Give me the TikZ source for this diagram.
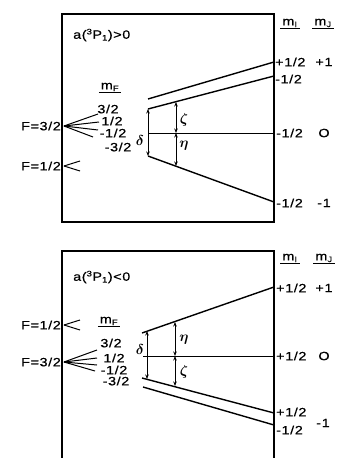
\documentclass[tikz,border=0pt]{standalone}
\usepackage{fontspec}
\setmainfont[FakeStretch=1.2,FakeBold=0.6,LetterSpace=5]{Liberation Sans}
\usetikzlibrary{arrows.meta}
\begin{document}
\begin{tikzpicture}[x=1pt,y=-1pt,
  lbl/.style={inner sep=0pt,font=\fontsize{12}{14}\selectfont},
  grk/.style={inner sep=0pt,font=\fontsize{14}{15}\selectfont\boldmath},
  lvl/.style={line width=1.4pt},
  fan/.style={line width=1pt},
  frame/.style={line width=1.1pt},
  dim/.style={line width=1pt,{Stealth[length=4.5pt,width=3.5pt]}-{Stealth[length=4.5pt,width=3.5pt]}}]
\useasboundingbox (0,0) rectangle (337,458);
% ---------- top panel ----------
\draw[frame] (62,14) rectangle (274,222);
\node[lbl,anchor=west] (ta) at (73,35) {a(\textsuperscript{3}P\textsubscript{1})>0};
\node[lbl] (tmi) at (290,24) {\underline{\,m\textsubscript{I}\,}};
\node[lbl] (tmj) at (323,24) {\underline{\,m\textsubscript{J}\,}};
\node[lbl] (tmf) at (110,88) {\underline{\,m\textsubscript{F}\,}};
% levels
\coordinate (t1s) at (148,99);  \coordinate (t1e) at (274,62);
\coordinate (t2s) at (148,109); \coordinate (t2e) at (274,76);
\coordinate (t3s) at (148,133); \coordinate (t3e) at (274,133);
\coordinate (t4s) at (148,156); \coordinate (t4e) at (274,202);
\draw[lvl] (t1s) -- (t1e);
\draw[lvl] (t2s) -- (t2e);
\draw[line width=1pt] (t3s) -- (t3e);
\draw[lvl] (t4s) -- (t4e);
\node[lbl,anchor=west] (tr1) at (275,62) {+1/2};
\node[lbl,anchor=west] (tr2) at (275,79) {-1/2};
\node[lbl,anchor=west] (tr3) at (276,133) {-1/2};
\node[lbl,anchor=west] (tr4) at (276,203) {-1/2};
\node[lbl] (tj1) at (324,62) {+1};
\node[lbl] (tj2) at (324,133) {O};
\node[lbl] (tj3) at (324,203) {-1};
% dimension arrows
\draw[dim] (t2s) -- (t4s);
\node[grk] (td) at (140,140) {$\delta$};
\coordinate (tz1) at (176,102);
\coordinate (tz2) at (176,133);
\coordinate (tz3) at (176,166);
\draw[dim] (tz1) -- (tz2);
\draw[dim] (tz2) -- (tz3);
\node[grk] (tzeta) at (184,120) {$\zeta$};
\node[grk] (teta) at (184,146) {$\eta$};
% F labels and fans
\node[lbl,anchor=east] (tF3) at (61,126) {F=3/2};
\coordinate (tf3) at (64,126);
\node[lbl] (tm1) at (108,109) {3/2};
\node[lbl] (tm2) at (112,121) {1/2};
\node[lbl] (tm3) at (113,133) {-1/2};
\node[lbl] (tm4) at (118,147) {-3/2};
\draw[fan] (tf3) -- (98,114);
\draw[fan] (tf3) -- (99,122);
\draw[fan] (tf3) -- (98,130);
\draw[fan] (tf3) -- (93,137);
\node[lbl,anchor=east] (tF1) at (61,166) {F=1/2};
\coordinate (tf1) at (64,166);
\draw[fan] (tf1) -- (80,161);
\draw[fan] (tf1) -- (80,171);
% ---------- bottom panel ----------
\draw[frame] (62,458) -- (62,251) -- (274,251) -- (274,458);
\node[lbl,anchor=west] (ba) at (73,277) {a(\textsuperscript{3}P\textsubscript{1})<0};
\node[lbl] (bmi) at (290,259) {\underline{\,m\textsubscript{I}\,}};
\node[lbl] (bmj) at (324,259) {\underline{\,m\textsubscript{J}\,}};
\node[lbl] (bmf) at (109,322) {\underline{\,m\textsubscript{F}\,}};
\coordinate (b1s) at (142,333); \coordinate (b1e) at (274,287);
\coordinate (b2s) at (143,356); \coordinate (b2e) at (274,356);
\coordinate (b3s) at (142,378); \coordinate (b3e) at (274,413);
\coordinate (b4s) at (143,387); \coordinate (b4e) at (274,425);
\draw[lvl] (b1s) -- (b1e);
\draw[line width=1pt] (b2s) -- (b2e);
\draw[lvl] (b3s) -- (b3e);
\draw[lvl] (b4s) -- (b4e);
\node[lbl,anchor=west] (br1) at (276,288) {+1/2};
\node[lbl,anchor=west] (br2) at (276,356) {+1/2};
\node[lbl,anchor=west] (br3) at (276,412) {+1/2};
\node[lbl,anchor=west] (br4) at (276,430) {-1/2};
\node[lbl] (bj1) at (324,288) {+1};
\node[lbl] (bj2) at (324,356) {O};
\node[lbl] (bj3) at (323,423) {-1};
\coordinate (bd1) at (147,331);
\coordinate (bd2) at (147,379);
\draw[dim] (bd1) -- (bd2);
\node[grk] (bd) at (140,349) {$\delta$};
\coordinate (bz1) at (175,322);
\coordinate (bz2) at (175,356);
\coordinate (bz3) at (175,386);
\draw[dim] (bz1) -- (bz2);
\draw[dim] (bz2) -- (bz3);
\node[grk] (beta) at (184,340) {$\eta$};
\node[grk] (bzeta) at (184,372) {$\zeta$};
\node[lbl,anchor=east] (bF1) at (61,325) {F=1/2};
\coordinate (bf1) at (64,325);
\draw[fan] (bf1) -- (80,320);
\draw[fan] (bf1) -- (80,330);
\node[lbl,anchor=east] (bF3) at (61,362) {F=3/2};
\coordinate (bf3) at (64,362);
\draw[fan] (bf3) -- (97,350);
\draw[fan] (bf3) -- (97,358);
\draw[fan] (bf3) -- (97,365);
\draw[fan] (bf3) -- (95,371);
\node[lbl] (bm1) at (111,343) {3/2};
\node[lbl] (bm2) at (114,358) {1/2};
\node[lbl] (bm3) at (114,370) {-1/2};
\node[lbl] (bm4) at (116,381) {-3/2};
\end{tikzpicture}
\end{document}
